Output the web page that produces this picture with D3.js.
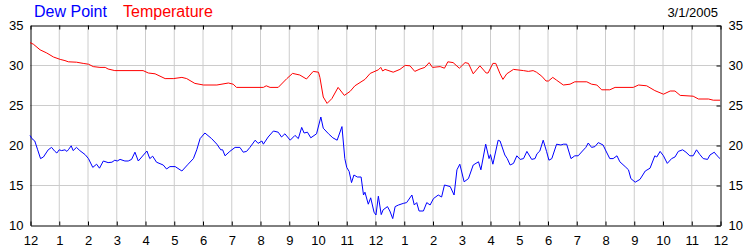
<!DOCTYPE html>
<html><head><meta charset="utf-8">
<script src="https://cdn.jsdelivr.net/npm/d3@7"></script>
<style>
html,body{margin:0;padding:0;background:#fff;}
text{font-family:"Liberation Sans",Arial,sans-serif;}
</style></head>
<body><svg id="c" width="750" height="250"></svg>
<script>
// minutes after midnight, 3/1/2005
const tempMinutes = [0,7,21,35,49,63,73,80,97,111,122,132,146,157,163,177,236,247,261,282,299,317,327,344,362,390,414,424,431,487,493,501,518,536,548,563,577,591,602,605,612,620,630,643,656,668,678,699,710,727,732,736,741,758,772,783,793,803,814,824,833,840,856,865,872,883,896,908,915,925,939,952,956,966,972,981,987,995,1009,1030,1040,1050,1057,1068,1077,1082,1091,1099,1113,1127,1137,1162,1172,1183,1193,1210,1221,1259,1270,1287,1304,1322,1336,1346,1357,1384,1395,1416,1426,1440];
const tempValues = [32.8,32.6,31.9,31.5,31.0,30.7,30.55,30.4,30.35,30.2,30.1,29.8,29.7,29.7,29.5,29.3,29.3,29.0,28.9,28.3,28.3,28.45,28.3,27.7,27.5,27.5,27.75,27.6,27.2,27.2,27.4,27.2,27.2,28.3,28.95,28.75,28.25,29.2,29.1,28.45,26.0,25.2,25.8,27.2,26.2,26.7,27.4,28.2,28.95,29.4,29.7,29.25,29.45,29.1,29.45,29.95,29.9,29.2,29.5,29.7,30.3,29.7,29.8,29.6,30.4,30.3,29.6,30.3,30.2,28.9,29.9,29.0,29.0,30.2,30.2,28.9,28.2,28.9,29.45,29.3,29.2,29.3,29.1,28.6,28.0,28.0,28.45,28.1,27.5,27.6,27.9,27.9,27.6,27.5,26.9,26.9,27.2,27.2,27.5,27.4,26.8,26.35,26.75,26.75,26.2,26.1,25.75,25.75,25.6,25.6];
const dewMinutes = [0,4,10,16,22,28,38,45,52,56,61,66,73,77,80,86,90,97,104,115,122,131,139,145,153,163,171,177,182,188,198,205,212,219,226,244,250,256,264,278,285,292,303,317,330,341,348,355,365,379,390,398,402,407,417,428,438,445,452,459,470,476,484,487,497,508,518,525,532,543,553,560,567,572,579,586,598,607,612,623,632,641,651,657,661,666,671,676,683,691,696,699,706,711,718,722,727,733,737,746,751,757,762,769,779,786,797,802,807,812,821,828,835,842,852,859,865,877,885,891,897,906,915,925,936,941,951,958,961,966,977,981,991,996,1002,1009,1016,1023,1030,1037,1047,1054,1058,1064,1071,1078,1083,1089,1099,1108,1113,1120,1129,1137,1144,1153,1160,1165,1172,1179,1186,1196,1202,1210,1217,1225,1231,1242,1249,1254,1263,1273,1284,1294,1304,1308,1315,1322,1330,1339,1346,1353,1362,1369,1377,1384,1391,1398,1405,1414,1419,1428,1434,1440];
const dewValues = [21.2,20.8,20.5,19.4,18.3,18.5,19.4,19.7,19.2,19.0,19.4,19.3,19.4,19.2,19.4,19.9,19.3,19.7,19.3,18.8,18.3,17.2,17.6,17.1,18.0,17.8,17.85,18.1,18.0,18.2,18.0,18.0,18.2,19.1,18.0,19.25,18.3,18.6,17.85,17.5,17.0,17.3,17.3,16.75,17.6,18.3,19.4,20.8,21.5,20.8,20.1,19.4,19.4,18.65,19.2,19.7,19.7,19.1,19.2,19.7,20.6,20.2,20.5,20.1,21.0,21.75,21.6,21.0,21.4,20.6,21.2,20.8,22.2,21.5,21.6,20.9,21.4,23.5,22.1,21.4,20.9,20.6,22.3,18.3,17.2,16.7,15.3,16.25,16.0,16.0,13.75,14.1,12.6,13.4,11.6,11.25,13.6,11.3,11.9,12.3,11.75,10.8,12.3,12.5,12.7,12.8,13.75,12.5,12.8,11.75,11.75,12.8,12.5,13.3,13.75,13.5,15.0,14.8,13.75,16.9,17.6,15.4,15.8,17.5,17.9,16.9,20.1,18.3,18.8,17.6,20.6,20.5,18.75,18.3,17.5,17.7,18.65,18.2,18.3,19.2,18.2,18.3,18.9,19.25,20.6,19.2,18.1,18.3,20.1,20.0,20.1,20.1,18.3,18.65,18.65,19.25,19.7,20.25,19.7,19.8,20.3,20.0,19.25,18.3,18.3,18.65,17.9,17.3,16.9,15.8,15.35,15.7,16.75,17.1,18.65,18.5,19.2,18.65,17.7,18.3,18.5,19.2,19.4,19.1,18.65,18.65,19.4,18.8,18.3,18.2,18.75,19.1,18.65,18.3];
const hourTicks = d3.range(0, 1441, 60);
const yTicks = [10, 15, 20, 25, 30, 35];
const dateLabel = "3/1/2005";
const seriesNames = ["Dew Point", "Temperature"];

const svg = d3.select("#c");
const L = 30, R = 720, T = 25, B = 225;
const x = d3.scaleLinear().domain([0, 1440]).range([L, R]);
const y = d3.scaleLinear().domain([10, 35]).range([B, T]);
const hourFmt = m => String(((m / 60) % 12) || 12);

// grid
const g = svg.append("g");
g.selectAll("line.v").data(hourTicks.slice(1, -1)).join("line")
  .attr("x1", d => x(d) + 0.5).attr("x2", d => x(d) + 0.5)
  .attr("y1", T).attr("y2", B).attr("stroke", "#cccccc");
g.selectAll("line.h").data(yTicks.slice(1, -1)).join("line")
  .attr("y1", d => y(d) + 0.5).attr("y2", d => y(d) + 0.5)
  .attr("x1", L).attr("x2", R).attr("stroke", "#cccccc");

function styleAxis(sel) {
  sel.selectAll("path.domain").attr("stroke", "#000");
  sel.selectAll(".tick line").attr("stroke", "#000");
  sel.selectAll("text").attr("fill", "#000").style("font-size", "13px")
     .style("font-family", '"Liberation Sans", Arial, sans-serif');
}
svg.append("g").attr("transform", `translate(0.5,${B + 0.5})`)
  .call(d3.axisBottom(x).tickValues(hourTicks).tickFormat(hourFmt).tickSize(-4).tickSizeOuter(0).tickPadding(10))
  .call(styleAxis);
svg.append("g").attr("transform", `translate(0.5,${T + 0.5})`)
  .call(d3.axisTop(x).tickValues(hourTicks).tickFormat("").tickSize(-4).tickSizeOuter(0))
  .call(styleAxis);
svg.append("g").attr("transform", `translate(${L + 0.5},0.5)`)
  .call(d3.axisLeft(y).tickValues(yTicks).tickSize(0).tickPadding(7))
  .call(styleAxis);
svg.append("g").attr("transform", `translate(${R + 0.5},0.5)`)
  .call(d3.axisRight(y).tickValues(yTicks).tickSize(-4).tickSizeOuter(0).tickPadding(8))
  .call(styleAxis);

const line = d3.line().x(d => x(d[0])).y(d => y(d[1]));
svg.append("path").datum(d3.zip(tempMinutes, tempValues))
  .attr("d", line).attr("fill", "none").attr("stroke", "#ff0000").attr("stroke-width", 1);
svg.append("path").datum(d3.zip(dewMinutes, dewValues))
  .attr("d", line).attr("fill", "none").attr("stroke", "#0000ff").attr("stroke-width", 1);

// legend / titles
svg.append("text").attr("x", 34).attr("y", 17).attr("fill", "#0000ff").style("font-size", "16px").text(seriesNames[0]);
svg.append("text").attr("x", 123).attr("y", 17).attr("fill", "#ff0000").style("font-size", "16px").text(seriesNames[1]);
svg.append("text").attr("x", 718).attr("y", 17).attr("text-anchor", "end").attr("fill", "#000").style("font-size", "13px").text(dateLabel);
</script></body></html>
